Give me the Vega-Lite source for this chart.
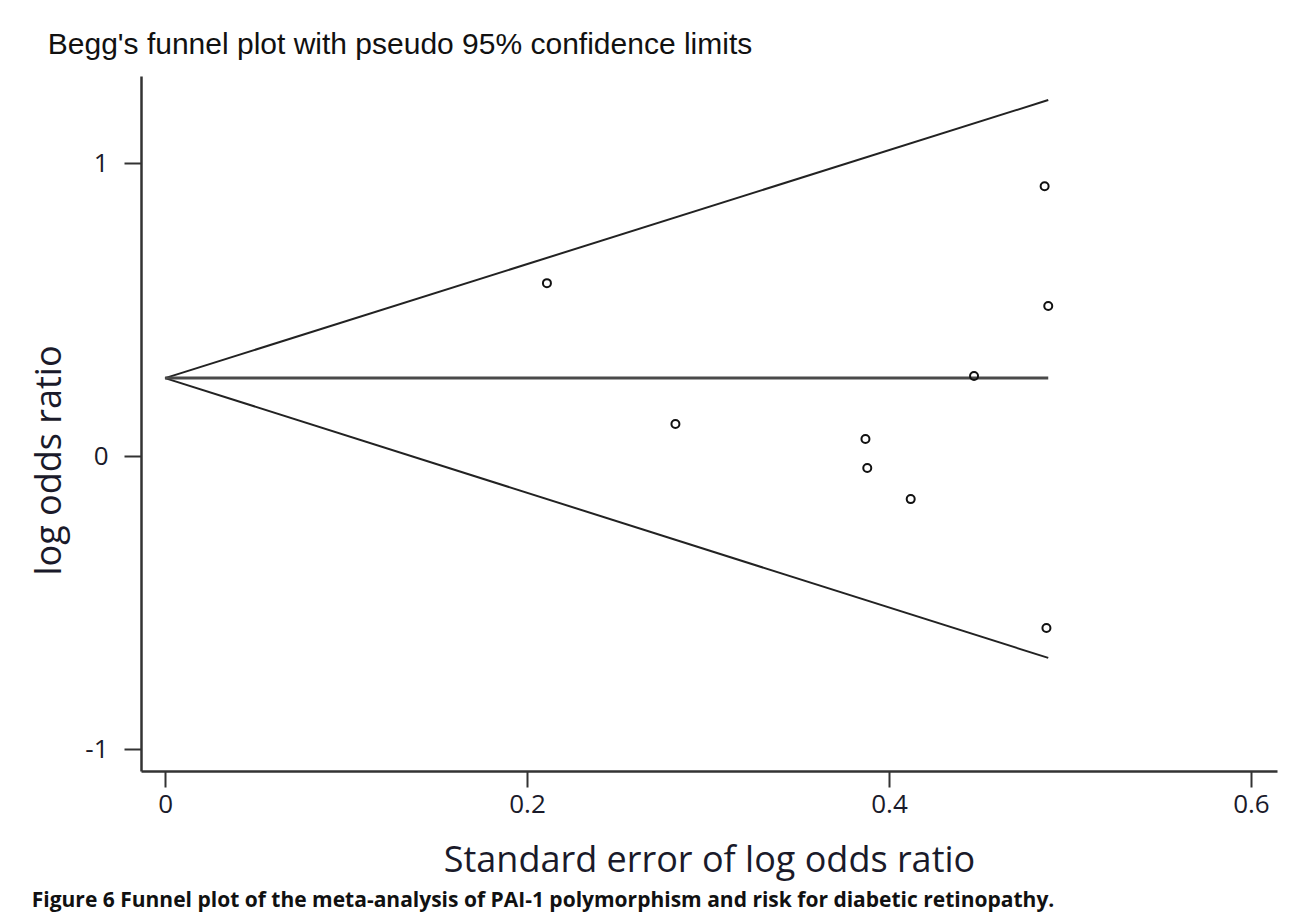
{
  "$schema": "https://vega.github.io/schema/vega-lite/v6.json",
  "background": "white",
  "padding": {"left": 31, "top": 30, "right": 10, "bottom": 5},
  "title": {
    "text": "Figure 6 Funnel plot of the meta-analysis of PAI-1 polymorphism and risk for diabetic retinopathy.",
    "orient": "bottom",
    "anchor": "start",
    "font": "Open Sans",
    "fontSize": 21,
    "fontWeight": "bold",
    "color": "#111111",
    "offset": 12
  },
  "datasets": {
    "studies": [
      {"se": 0.211, "lor": 0.590},
      {"se": 0.282, "lor": 0.109},
      {"se": 0.387, "lor": 0.058},
      {"se": 0.388, "lor": -0.041},
      {"se": 0.412, "lor": -0.147},
      {"se": 0.447, "lor": 0.273},
      {"se": 0.486, "lor": 0.921},
      {"se": 0.488, "lor": 0.512},
      {"se": 0.487, "lor": -0.587}
    ],
    "limits": [
      {"series": "upper", "se": 0, "lor": 0.266},
      {"series": "upper", "se": 0.488, "lor": 1.215},
      {"series": "lower", "se": 0, "lor": 0.266},
      {"series": "lower", "se": 0.488, "lor": -0.689},
      {"series": "pooled", "se": 0, "lor": 0.266},
      {"series": "pooled", "se": 0.488, "lor": 0.266}
    ]
  },
  "vconcat": [
    {
      "title": {
        "text": "Begg's funnel plot with pseudo 95% confidence limits",
        "anchor": "start",
        "frame": "bounds",
        "dx": 16,
        "font": "Liberation Sans",
        "fontSize": 30,
        "fontWeight": "normal",
        "color": "#111111",
        "offset": 16
      },
      "width": 1136,
      "height": 695,
      "layer": [
        {
          "data": {"name": "limits"},
          "transform": [{"filter": "datum.series != 'pooled'"}],
          "mark": {"type": "line", "color": "#222222", "strokeWidth": 2},
          "encoding": {
            "x": {"field": "se", "type": "quantitative"},
            "y": {"field": "lor", "type": "quantitative"},
            "detail": {"field": "series"}
          }
        },
        {
          "data": {"name": "limits"},
          "transform": [{"filter": "datum.series == 'pooled'"}],
          "mark": {"type": "line", "color": "#4a4a4a", "strokeWidth": 3},
          "encoding": {
            "x": {"field": "se", "type": "quantitative"},
            "y": {"field": "lor", "type": "quantitative"}
          }
        },
        {
          "data": {"name": "studies"},
          "mark": {"type": "point", "shape": "circle", "filled": false, "color": "#111111", "strokeWidth": 2, "size": 64, "opacity": 1},
          "encoding": {
            "x": {
              "field": "se",
              "type": "quantitative",
              "scale": {"domain": [-0.0133, 0.6144], "nice": false, "zero": false},
              "axis": {
                "values": [0, 0.2, 0.4, 0.6],
                "labelExpr": "datum.value == 0 ? '0' : format(datum.value, '.1f')",
                "title": "Standard error of log odds ratio"
              }
            },
            "y": {
              "field": "lor",
              "type": "quantitative",
              "scale": {"domain": [-1.075, 1.297], "nice": false, "zero": false},
              "axis": {
                "values": [-1, 0, 1],
                "labelExpr": "datum.value == -1 ? '-1' : format(datum.value, 'd')",
                "title": "log odds ratio",
                "titleY": 384
              }
            }
          }
        }
      ]
    }
  ],
  "config": {
    "view": {"stroke": null},
    "axis": {
      "grid": false,
      "domainColor": "#333333",
      "domainWidth": 2.5,
      "tickColor": "#333333",
      "tickWidth": 2,
      "labelFont": "Open Sans",
      "labelFontSize": 26,
      "labelColor": "#1a1a2a",
      "titleFont": "Open Sans",
      "titleFontSize": 36,
      "titleFontWeight": "normal",
      "titleColor": "#1a1a2a"
    },
    "axisX": {"tickSize": 16, "labelPadding": 4, "titlePadding": 26},
    "axisY": {"tickSize": 17, "labelPadding": 16, "titlePadding": 16}
  }
}
